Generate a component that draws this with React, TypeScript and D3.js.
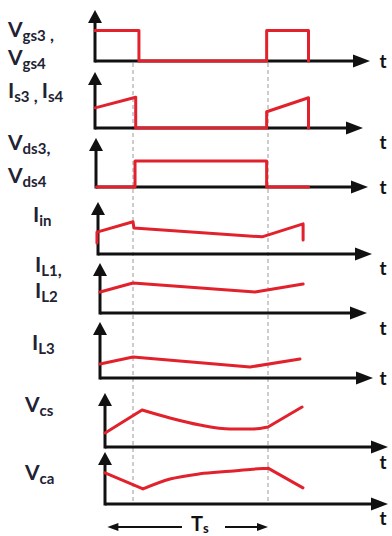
import React, { useRef, useEffect } from "react";
import * as d3 from "d3";

// time is given as a fraction of the switching period Ts (0 = first dashed line, 1 = second)
const tsMarks = [0, 1];

// waveform points [t, level]; level 0 = time axis, 1 = top of the y arrow
const vgs = [[-0.28, 0.6], [0.044, 0.6], [0.044, 0], [0.99, 0], [0.99, 0.6], [1.3, 0.6], [1.3, 0]];
const isw = [[-0.28, 0.36], [0.02, 0.55], [0.02, 0], [0.99, 0], [0.99, 0.29], [1.3, 0.54], [1.3, 0]];
const vds = [[-0.27, 0], [0.015, 0], [0.015, 0.53], [0.99, 0.53], [0.99, 0], [1.3, 0]];
const iin = [[-0.267, 0.21], [-0.267, 0.42], [0, 0.62], [0.007, 0.5], [0.956, 0.33], [1.26, 0.58], [1.26, 0.27]];
const il12 = [[-0.244, 0.42], [0, 0.6], [0.904, 0.42], [1.26, 0.58]];
const il3 = [[-0.244, 0.25], [0, 0.375], [0.867, 0.196], [1.237, 0.34]];
const vcs = [[-0.207, 0.26], [0.067, 0.685], [0.274, 0.537], [0.496, 0.407], [0.719, 0.333], [0.889, 0.333], [1.0, 0.37], [1.252, 0.74]];
const vca = [[-0.207, 0.6], [0.074, 0.29], [0.274, 0.48], [0.496, 0.58], [0.719, 0.63], [0.889, 0.67], [1.0, 0.69], [1.259, 0.31]];

// label text: [main, subscript, tail]
const labels = [
  [["V", "gs3", " ,"], ["V", "gs4", ""]],
  [["I", "s3", " , ", "I", "s4", ""]],
  [["V", "ds3", ","], ["V", "ds4", ""]],
  [["I", "in", ""]],
  [["I", "L1", ","], ["I", "L2", ""]],
  [["I", "L3", ""]],
  [["V", "cs", ""]],
  [["V", "ca", ""]],
];
const waves = [vgs, isw, vds, iin, il12, il3, vcs, vca];
const smooth = [null, null, null, null, null, null, [1, 6], [1, 6]];

// panel layout (pixels)
const panels = [
  { ax: 95, base: 61, top: 10, tip: 370, lx: 8, ly: [37, 65], tdy: 0 },
  { ax: 95, base: 128, top: 72, tip: 363, lx: 8, ly: [98], tdy: 14 },
  { ax: 96, base: 187, top: 138, tip: 368, lx: 8, ly: [150, 183], tdy: 0 },
  { ax: 98, base: 254, top: 202, tip: 372, lx: 33, ly: [222], tdy: 14 },
  { ax: 100, base: 313, top: 263, tip: 367, lx: 35, ly: [272, 298], tdy: 15 },
  { ax: 100, base: 378, top: 322, tip: 373, lx: 32, ly: [350], tdy: 0 },
  { ax: 105, base: 447, top: 393, tip: 388, lx: 25, ly: [412], tdy: 15 },
  { ax: 105, base: 504, top: 452, tip: 388, lx: 25, ly: [480], tdy: 14 },
];

const RED = "#e1222d";
const INK = "#111";
const FONT = "Lato, 'Open Sans', sans-serif";

function App() {
  const ref = useRef(null);

  useEffect(() => {
    const svg = d3.select(ref.current);
    svg.selectAll("*").remove();

    const x = d3.scaleLinear().domain([0, 1]).range([133, 268]);

    // dashed period markers
    svg
      .selectAll("line.mark")
      .data(tsMarks)
      .join("line")
      .attr("class", "mark")
      .attr("x1", (d) => x(d))
      .attr("x2", (d) => x(d))
      .attr("y1", 63)
      .attr("y2", 504)
      .style("stroke", "#9a9a9a")
      .style("stroke-width", 1)
      .style("stroke-dasharray", "4,3");

    panels.forEach((p, i) => {
      const y = d3.scaleLinear().domain([0, 1]).range([p.base, p.top]);
      const g = svg.append("g");

      // axes
      g.append("line")
        .attr("x1", p.ax).attr("x2", p.tip - 12)
        .attr("y1", p.base).attr("y2", p.base)
        .style("stroke", INK).style("stroke-width", 3);
      g.append("path")
        .attr("d", `M${p.tip},${p.base} L${p.tip - 17},${p.base - 6.5} L${p.tip - 17},${p.base + 6.5} Z`)
        .style("fill", INK);
      g.append("line")
        .attr("x1", p.ax).attr("x2", p.ax)
        .attr("y1", p.base + 1.5).attr("y2", p.top + 10)
        .style("stroke", INK).style("stroke-width", 3);
      g.append("path")
        .attr("d", `M${p.ax},${p.top} L${p.ax - 7},${p.top + 13} L${p.ax + 7},${p.top + 13} Z`)
        .style("fill", INK);

      g.append("text")
        .attr("x", 383)
        .attr("y", p.base + p.tdy + 7)
        .attr("text-anchor", "middle")
        .style("font-family", FONT)
        .style("font-weight", 700)
        .style("font-size", "19px")
        .style("fill", INK)
        .text("t");

      // waveform
      const pts = waves[i];
      const seg = smooth[i];
      const lin = d3.line().x((d) => x(d[0])).y((d) => y(d[1]));
      let dstr;
      if (seg) {
        const curve = d3.line().x((d) => x(d[0])).y((d) => y(d[1])).curve(d3.curveMonotoneX);
        dstr =
          lin(pts.slice(0, seg[0] + 1)) +
          curve(pts.slice(seg[0], seg[1] + 1)) +
          lin(pts.slice(seg[1]));
      } else {
        dstr = lin(pts);
      }
      g.append("path")
        .attr("d", dstr)
        .style("fill", "none")
        .style("stroke", RED)
        .style("stroke-width", 3)
        .style("stroke-linejoin", "round")
        .style("stroke-linecap", "round");

      // label
      labels[i].forEach((parts, j) => {
        const t = g.append("text")
          .attr("x", p.lx)
          .attr("y", p.ly[j])
          .style("font-family", FONT)
          .style("font-weight", 700)
          .style("fill", "#222233");
        for (let k = 0; k < parts.length; k += 3) {
          t.append("tspan").style("font-size", "21px").attr("dy", k === 0 ? 0 : -4).text(parts[k]);
          t.append("tspan").style("font-size", "15px").attr("dy", 4).text(parts[k + 1]);
          if (parts[k + 2]) t.append("tspan").style("font-size", "17px").attr("dy", 0).text(parts[k + 2]);
        }
      });
    });

    // Ts arrow
    const ty = 527;
    const ts = svg.append("g");
    ts.append("line").attr("x1", x(-0.19) + 8).attr("x2", 182).attr("y1", ty).attr("y2", ty)
      .style("stroke", INK).style("stroke-width", 2);
    ts.append("path")
      .attr("d", `M${x(-0.19)},${ty} L${x(-0.19) + 11},${ty - 4} L${x(-0.19) + 11},${ty + 4} Z`)
      .style("fill", INK);
    ts.append("line").attr("x1", 225).attr("x2", x(1) - 8).attr("y1", ty).attr("y2", ty)
      .style("stroke", INK).style("stroke-width", 2);
    ts.append("path")
      .attr("d", `M${x(1)},${ty} L${x(1) - 11},${ty - 4} L${x(1) - 11},${ty + 4} Z`)
      .style("fill", INK);
    const tt = ts.append("text").attr("x", 191).attr("y", 531)
      .style("font-family", FONT).style("font-weight", 700).style("fill", INK);
    tt.append("tspan").style("font-size", "20px").text("T");
    tt.append("tspan").style("font-size", "13px").attr("dy", 2).text("s");
  }, []);

  return (
    <svg
      ref={ref}
      width="392"
      height="536"
      style={{ position: "absolute", left: 0, top: 0, background: "#fff" }}
    ></svg>
  );
}

export default App;
